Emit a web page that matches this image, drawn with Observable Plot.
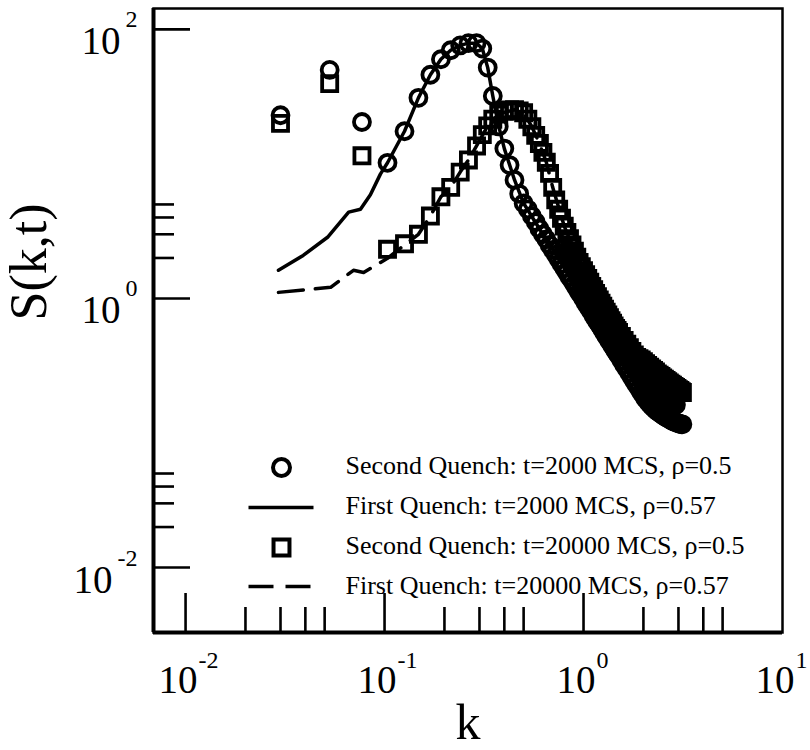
<!DOCTYPE html>
<html><head><meta charset="utf-8">
<script src="https://cdn.jsdelivr.net/npm/d3@7"></script>
<script src="https://cdn.jsdelivr.net/npm/@observablehq/plot@0.6"></script>
<style>html,body{margin:0;padding:0;background:#fff;} #chart svg{display:block;}</style>
</head><body><div id="chart"></div>
<script>
// ---- data ----
const kSecond = [
  0.030, 0.053, 0.077, 0.1035, 0.126, 0.148, 0.17, 0.192, 0.215, 0.24,
  0.264, 0.29, 0.31, 0.33, 0.35, 0.375, 0.40, 0.425, 0.45, 0.475,
  0.50, 0.525, 0.55, 0.575, 0.60, 0.625, 0.65, 0.675, 0.70, 0.725,
  0.75, 0.775, 0.80, 0.825, 0.85, 0.875, 0.90, 0.925, 0.95, 0.975,
  1.00, 1.025, 1.05, 1.075, 1.10, 1.125, 1.15, 1.175, 1.20, 1.225,
  1.25, 1.275, 1.30, 1.325, 1.35, 1.375, 1.40, 1.425, 1.45, 1.475,
  1.50, 1.55, 1.60, 1.65, 1.70, 1.75, 1.80, 1.85, 1.90, 1.95,
  2.00, 2.05, 2.10, 2.15, 2.20, 2.25, 2.30, 2.35, 2.40, 2.45,
  2.50, 2.55, 2.60, 2.65, 2.70, 2.75, 2.80, 2.85, 2.90, 2.95,
  3.00, 3.05, 3.10, 3.14
];
// Second Quench: t=2000 MCS, rho=0.5 (circles, lower edge of the band)
const sSecond2000 = [
  23, 50, 20.5, 10.2, 17.5, 31, 46, 60, 70, 76,
  79, 79, 72, 52, 32, 19, 13, 9.8, 7.6, 6.0,
  5.1, 4.6, 4.1, 3.7, 3.3, 3.0, 2.75, 2.5, 2.3, 2.12,
  1.96, 1.81, 1.68, 1.56, 1.45, 1.36, 1.27, 1.19, 1.11, 1.05,
  0.99, 0.93, 0.88, 0.83, 0.79, 0.745, 0.707, 0.672, 0.64, 0.61,
  0.58, 0.553, 0.528, 0.505, 0.483, 0.462, 0.443, 0.425, 0.408, 0.391,
  0.376, 0.347, 0.322, 0.30, 0.279, 0.26, 0.243, 0.228, 0.214, 0.201,
  0.19, 0.180, 0.172, 0.165, 0.159, 0.154, 0.149, 0.145, 0.142, 0.139,
  0.136, 0.133, 0.131, 0.129, 0.127, 0.125, 0.123, 0.122, 0.12, 0.119,
  0.118, 0.117, 0.116, 0.116
];
// Second Quench: t=2000 MCS, rho=0.5 (circles scattered inside the band at large k)
const kSecond2000Spread = [
  0.80, 0.825, 0.85, 0.875, 0.90, 0.925, 0.95, 0.975, 1.00, 1.025,
  1.05, 1.075, 1.10, 1.125, 1.15, 1.175, 1.20, 1.225, 1.25, 1.275,
  1.30, 1.325, 1.35, 1.375, 1.40, 1.425, 1.45, 1.475, 1.50, 1.55,
  1.60, 1.65, 1.70, 1.75, 1.80, 1.85, 1.90, 1.95, 2.00, 2.05,
  2.10, 2.15, 2.20, 2.25, 2.30, 2.35, 2.40, 2.45, 2.50, 2.55,
  2.60, 2.65, 2.70, 2.75, 2.80, 2.85, 2.90
];
const sSecond2000Spread = [
  2.41, 2.2, 2.0, 1.84, 1.69, 1.55, 1.43, 1.34, 1.26, 1.18,
  1.11, 1.04, 0.986, 0.93, 0.878, 0.832, 0.79, 0.75, 0.713, 0.679,
  0.647, 0.617, 0.589, 0.563, 0.538, 0.516, 0.495, 0.476, 0.458, 0.426,
  0.396, 0.371, 0.346, 0.324, 0.304, 0.288, 0.276, 0.265, 0.254, 0.243,
  0.234, 0.226, 0.218, 0.212, 0.206, 0.20, 0.195, 0.191, 0.187, 0.183,
  0.18, 0.176, 0.173, 0.17, 0.167, 0.165, 0.162
];
// Second Quench: t=20000 MCS, rho=0.5 (squares)
const sSecond20000 = [
  20, 39.5, 11.5, 2.32, 2.55, 3.0, 4.1, 5.7, 6.7, 8.7,
  10.7, 13.6, 16.5, 19.2, 21.5, 23.5, 24.6, 25.2, 25.3, 24.8,
  24.0, 21.5, 18.9, 16.3, 14.2, 12.2, 10.3, 8.5, 6.7, 5.4,
  4.6, 3.95, 3.45, 3.1, 2.78, 2.5, 2.25, 2.03, 1.85, 1.72,
  1.61, 1.50, 1.41, 1.32, 1.23, 1.16, 1.09, 1.03, 0.976, 0.923,
  0.877, 0.834, 0.792, 0.755, 0.719, 0.685, 0.654, 0.625, 0.60, 0.579,
  0.559, 0.522, 0.488, 0.458, 0.43, 0.404, 0.381, 0.365, 0.357, 0.35,
  0.339, 0.328, 0.318, 0.309, 0.30, 0.292, 0.284, 0.275, 0.269, 0.263,
  0.257, 0.251, 0.246, 0.241, 0.236, 0.231, 0.227, 0.222, 0.218, 0.214,
  0.21, 0.207, 0.203, 0.20
];
// First Quench: t=2000 MCS, rho=0.57 (solid line)
const kFirst2000 = [0.0293, 0.039, 0.0517, 0.066, 0.0757, 0.0849, 0.0953, 0.1035, 0.126, 0.148,
  0.17, 0.192, 0.215, 0.24, 0.264, 0.29, 0.31, 0.33, 0.35, 0.375, 0.40, 0.45, 0.50, 0.60, 0.70,
  0.80, 1.00, 1.20, 1.50, 2.00, 2.50, 3.14];
const sFirst2000 = [1.62, 2.09, 2.85, 4.38, 4.6, 5.9, 8.4, 10.2, 17.5, 31,
  46, 60, 70, 76, 79, 79, 72, 52, 32, 19, 13, 7.6, 5.1, 3.3, 2.3,
  1.68, 0.99, 0.64, 0.376, 0.19, 0.136, 0.116];
// First Quench: t=20000 MCS, rho=0.57 (dashed line)
const kFirst20000 = [0.0293, 0.0536, 0.0698, 0.0785, 0.1035, 0.126, 0.148, 0.17, 0.192, 0.215,
  0.24, 0.264, 0.29, 0.33, 0.375, 0.45, 0.50, 0.55, 0.60, 0.65, 0.70, 0.80, 0.90, 1.00,
  1.20, 1.50, 2.00, 2.50, 3.14];
const sFirst20000 = [1.11, 1.21, 1.62, 1.56, 1.99, 2.5, 3.0, 4.1, 5.7, 6.7,
  8.7, 10.7, 13.6, 19.2, 23.5, 25.3, 24.0, 18.9, 14.2, 10.3, 6.7, 3.45, 2.25, 1.61,
  0.976, 0.559, 0.339, 0.257, 0.20];

const legendLabels = [
  "Second Quench: t=2000 MCS, \u03c1=0.5",
  "First Quench: t=2000 MCS, \u03c1=0.57",
  "Second Quench: t=20000 MCS, \u03c1=0.5",
  "First Quench: t=20000 MCS, \u03c1=0.57"
];

// axis ticks and labels
const xDomain = [0.0069, 10];
const yDomain = [0.00329, 143];
const xMajor = [0.01, 0.1, 1];
const xMinor = [0.02, 0.03, 0.04, 0.05, 0.2, 0.3, 0.4, 0.5, 2, 3, 4, 5];
const yMajor = [0.01, 1, 100];
const yMinor = [0.02, 0.03, 0.04, 0.05, 2, 3, 4, 5];
const xLabelValues = [0.01, 0.1, 1, 10];
const xLabelExps = ["-2", "-1", "0", "1"];
const yLabelValues = [0.01, 1, 100];
const yLabelExps = ["-2", "0", "2"];

// ---- layout ----
const W = 810, H = 750, mL = 153, mR = 28, mT = 8, mB = 118;
const plotW = W - mL - mR, plotH = H - mT - mB;
const font = "'Liberation Serif', 'Times New Roman', serif";
const rows = (ks, ss) => ks.map((k, i) => ({k, s: ss[i]}));

const lineSymbol = {draw(ctx) { ctx.moveTo(-32.5, 0); ctx.lineTo(32.5, 0); }};
const circleStyle = {x: "k", y: "s", symbol: "circle", r: 8, fill: "none", stroke: "black", strokeWidth: 3.8};
const squareStyle = {x: "k", y: "s", symbol: "square", r: 8.5, fill: "none", stroke: "black", strokeWidth: 3.8};

const marks = [
  // frame
  Plot.frame({stroke: "black", strokeWidth: 2.5}),
  Plot.ruleX([xDomain[0]], {stroke: "black", strokeWidth: 4}),
  Plot.ruleY([yDomain[0]], {stroke: "black", strokeWidth: 4}),
  // inner ticks
  Plot.ruleX(xMajor, {x: d => d, insetTop: plotH - 39, stroke: "black", strokeWidth: 2.6}),
  Plot.ruleX(xMinor, {x: d => d, insetTop: plotH - 25, stroke: "black", strokeWidth: 2.6}),
  Plot.ruleY(yMajor, {y: d => d, insetRight: plotW - 37, stroke: "black", strokeWidth: 2.6}),
  Plot.ruleY(yMinor, {y: d => d, insetRight: plotW - 21, stroke: "black", strokeWidth: 2.6}),
  // tick labels x
  Plot.text(xLabelValues, {x: d => d, text: () => "10", frameAnchor: "bottom", textAnchor: "end",
    lineAnchor: "bottom", dx: 12, dy: 60, fontSize: 39, fill: "black"}),
  Plot.text(xLabelValues, {x: d => d, text: (d, i) => xLabelExps[i], frameAnchor: "bottom", textAnchor: "start",
    lineAnchor: "bottom", dx: 13, dy: 35, fontSize: 24, fill: "black"}),
  // tick labels y
  ...yLabelValues.map((v, i) => Plot.text([v], {y: d => d, text: () => "10", frameAnchor: "left",
    textAnchor: "end", lineAnchor: "bottom", dx: yLabelExps[i].length > 1 ? -41 : -33, dy: 25, fontSize: 39, fill: "black"})),
  Plot.text(yLabelValues, {y: d => d, text: (d, i) => yLabelExps[i], frameAnchor: "left",
    textAnchor: "end", lineAnchor: "bottom", dx: -16, dy: -2, fontSize: 24, fill: "black"}),
  // axis titles
  Plot.text(["S(k,t)"], {text: d => d, frameAnchor: "left", rotate: -90, dx: -124, fontSize: 52, fill: "black"}),
  Plot.text(["k"], {text: d => d, frameAnchor: "bottom", lineAnchor: "bottom", dy: 106, fontSize: 50, fill: "black"}),
  // data
  Plot.line(rows(kFirst2000, sFirst2000), {x: "k", y: "s", stroke: "black", strokeWidth: 3.5}),
  Plot.line(rows(kFirst20000, sFirst20000), {x: "k", y: "s", stroke: "black", strokeWidth: 3.5, strokeDasharray: "25,12"}),
  Plot.dot(rows(kSecond, sSecond2000), circleStyle),
  Plot.dot(rows(kSecond2000Spread, sSecond2000Spread), {...circleStyle, strokeWidth: 4.6}),
  Plot.dot(rows(kSecond, sSecond20000), squareStyle),
  // legend
  Plot.dot([legendLabels[0]], {frameAnchor: "top-left", dx: 128, dy: 459, symbol: "circle", r: 8.5, fill: "none", stroke: "black", strokeWidth: 4}),
  Plot.dot([legendLabels[1]], {frameAnchor: "top-left", dx: 127.5, dy: 499, symbol: lineSymbol, fill: "none", stroke: "black", strokeWidth: 3.5}),
  Plot.dot([legendLabels[2]], {frameAnchor: "top-left", dx: 128, dy: 539, symbol: "square", r: 9, fill: "none", stroke: "black", strokeWidth: 4}),
  Plot.dot([legendLabels[3]], {frameAnchor: "top-left", dx: 127.5, dy: 578, symbol: lineSymbol, fill: "none", stroke: "black", strokeWidth: 3.5, strokeDasharray: "25,12"}),
  ...legendLabels.map((t, i) => Plot.text([t], {text: d => d, frameAnchor: "top-left", textAnchor: "start",
    lineAnchor: "bottom", dx: 192, dy: 465 + 40 * i, fontSize: 26, fill: "black"}))
];

const chart = Plot.plot({
  width: W, height: H,
  marginLeft: mL, marginRight: mR, marginTop: mT, marginBottom: mB,
  x: {type: "log", domain: xDomain, axis: null},
  y: {type: "log", domain: yDomain, axis: null},
  style: {fontFamily: font, background: "white", color: "black", overflow: "visible"},
  marks
});
document.getElementById("chart").append(chart);
</script></body></html>
